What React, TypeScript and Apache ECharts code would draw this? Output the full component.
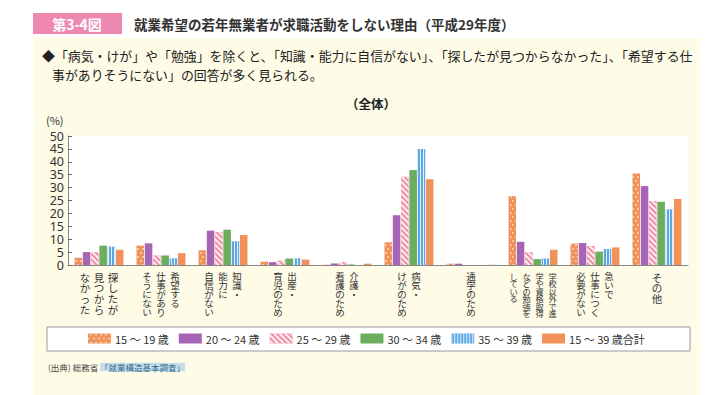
import React, { useEffect, useRef } from "react";
import * as echarts from "echarts";

const categoryColumns: string[][] = [
  ["探したが", "見つから", "なかった"],
  ["希望する", "仕事があり", "そうにない"],
  ["知識・", "能力に", "自信がない"],
  ["出産・", "育児のため"],
  ["介護・", "看護のため"],
  ["病気・", "けがのため"],
  ["通学のため"],
  ["学校以外で進", "学や資格取得", "などの勉強を", "している"],
  ["急いで", "仕事につく", "必要がない"],
  ["その他"],
];
const categories = categoryColumns.map((c) => c.join(""));

const seriesNames = ["15～19歳", "20～24歳", "25～29歳", "30～34歳", "35～39歳", "15～39歳合計"];
const age15to19 = [2.8, 7.5, 5.7, 1.3, 0.1, 8.8, 0.5, 26.7, 8.3, 35.5];
const age20to24 = [5.0, 8.4, 13.3, 1.1, 0.6, 19.3, 0.5, 9.0, 8.5, 30.6];
const age25to29 = [5.0, 3.7, 12.8, 1.7, 1.1, 34.2, 0.0, 5.0, 7.4, 24.8];
const age30to34 = [7.5, 3.7, 13.7, 2.5, 0.2, 36.8, 0.0, 2.3, 5.2, 24.5];
const age35to39 = [7.1, 2.6, 9.2, 2.6, 0.0, 45.0, 0.0, 2.5, 6.2, 21.6];
const ageTotal = [5.9, 4.6, 11.6, 2.1, 0.5, 33.2, 0.1, 5.9, 6.8, 25.6];
const seriesValues = [age15to19, age20to24, age25to29, age30to34, age35to39, ageTotal];

const yTicks = { min: 0, max: 50, interval: 5 };

const FONT = '"Noto Sans CJK JP", "Noto Sans", sans-serif';

export default function App() {
  const ref = useRef<HTMLDivElement>(null);

  useEffect(() => {
    document.body.style.margin = "0";
    const chart = echarts.init(ref.current!, null, { renderer: "svg" });

    const itemStyles: any[] = [
      {
        color: "#EF9259",
        decal: {
          symbol: "circle",
          symbolSize: 0.9,
          color: "rgba(255,240,220,0.75)",
          dashArrayX: [[1.5, 2.5], [0, 2, 1.5, 0.5]],
          dashArrayY: [1.5, 1.5],
        },
      },
      { color: "#A864B4" },
      {
        color: "#F38CA4",
        decal: {
          symbol: "rect",
          symbolSize: 1,
          color: "rgba(255,255,255,0.85)",
          dashArrayX: [1, 0],
          dashArrayY: [1.2, 1.2],
          rotation: Math.PI / 4,
        },
      },
      { color: "#6AAE5E" },
      {
        color: "#5AA7E4",
        decal: {
          symbol: "rect",
          symbolSize: 1,
          color: "rgba(255,255,255,0.85)",
          dashArrayX: [1, 1.6],
          dashArrayY: [1, 0],
        },
      },
      { color: "#F2915A" },
    ];

    const richBase = { fontFamily: FONT, color: "#333", align: "center" as const };

    const option: any = {
      animation: false,
      backgroundColor: "#ffffff",
      textStyle: { fontFamily: FONT },
      graphic: [
        { type: "rect", shape: { x: 33, y: 38, width: 667, height: 357 }, style: { fill: "#FEFBE7" }, silent: true, z: -10 },
        { type: "rect", shape: { x: 33, y: 13, width: 89, height: 21 }, style: { fill: "#EE88B0" } },
        {
          type: "text", x: 77, y: 24,
          style: { text: "第3-4図", fill: "#fff", fontSize: 14, fontWeight: "bold", fontFamily: FONT, align: "center", verticalAlign: "middle" },
        },
        {
          type: "text", x: 134, y: 24,
          style: { text: "就業希望の若年無業者が求職活動をしない理由（平成29年度）", fill: "#333", fontSize: 13.5, fontWeight: "bold", fontFamily: FONT, verticalAlign: "middle" },
        },
        {
          type: "text", x: 42, y: 55,
          style: { text: "◆「病気・けが」や「勉強」を除くと、「知識・能力に自信がない」、「探したが見つからなかった」、「希望する仕", fill: "#222", fontSize: 12.9, fontFamily: FONT, verticalAlign: "middle" },
        },
        {
          type: "text", x: 52, y: 74,
          style: { text: "事がありそうにない」の回答が多く見られる。", fill: "#222", fontSize: 12.9, fontFamily: FONT, verticalAlign: "middle" },
        },
        {
          type: "text", x: 371, y: 103,
          style: { text: "（全体）", fill: "#222", fontSize: 12.5, fontWeight: "bold", fontFamily: FONT, align: "center", verticalAlign: "middle" },
        },
        {
          type: "text", x: 46, y: 120,
          style: { text: "(%)", fill: "#333", fontSize: 11, fontFamily: FONT, verticalAlign: "middle" },
        },
        { type: "rect", shape: { x: 47, y: 327, width: 643, height: 24 }, style: { fill: "#fff", stroke: "#999", lineWidth: 1 }, z: -5 },
        {
          type: "text", x: 48, y: 367,
          style: {
            text: "{a|(出典) 総務省 }{b|「就業構造基本調査」}",
            verticalAlign: "middle",
            rich: {
              a: { fontSize: 8.5, fill: "#444", fontFamily: FONT },
              b: { fontSize: 8.5, fill: "#2C6C8C", backgroundColor: "#C6DDEA", fontFamily: FONT },
            },
          },
        },
      ],
      legend: {
        left: 83,
        top: 328,
        itemWidth: 23,
        itemHeight: 10,
        itemGap: 10,
        icon: "rect",
        data: seriesNames,
        formatter: (n: string) => n.replace("～", " ～ ").replace("歳", " 歳"),
        textStyle: { fontSize: 11, color: "#333", fontFamily: FONT, padding: [0, 0, 0, -1] },
      },
      grid: {
        left: 68,
        right: 24,
        top: 136,
        bottom: 130,
        show: true,
        backgroundColor: "#ffffff",
        borderWidth: 0,
      },
      xAxis: {
        type: "category",
        data: categories,
        axisLine: { lineStyle: { color: "#888", width: 1 } },
        axisTick: { inside: true, length: 5, lineStyle: { color: "#555" } },
        axisLabel: {
          interval: 0,
          margin: 7,
          verticalAlign: "top",
          formatter: (value: string) => {
            const idx = categories.indexOf(value);
            const cols = categoryColumns[idx];
            const n = Math.max(...cols.map((c) => c.length));
            const key = n <= 4 ? "a" : n === 5 ? "b" : "c";
            const ordered = [...cols].reverse();
            const lines: string[] = [];
            for (let r = 0; r < n; r++) {
              lines.push(ordered.map((c) => `{${key}|${c[r] ?? "　"}}`).join(""));
            }
            return lines.join("\n");
          },
          rich: {
            a: { ...richBase, fontSize: 10.5, lineHeight: 10.6, width: 14 },
            b: { ...richBase, fontSize: 9.5, lineHeight: 8.9, width: 14 },
            c: { ...richBase, fontSize: 8.2, lineHeight: 7.5, width: 13 },
          },
        },
      },
      yAxis: {
        type: "value",
        min: yTicks.min,
        max: yTicks.max,
        interval: yTicks.interval,
        axisLine: { show: true, lineStyle: { color: "#888", width: 1 } },
        axisTick: { show: true, inside: true, length: 4, lineStyle: { color: "#666" } },
        splitLine: { show: false },
        axisLabel: {
          fontSize: 12.5,
          color: "#333",
          margin: 4,
          showMinLabel: true,
          showMaxLabel: true,
          fontFamily: '"Noto Sans", sans-serif',
        },
      },
      series: seriesNames.map((name, i) => ({
        name,
        type: "bar",
        data: seriesValues[i],
        barCategoryGap: "21%",
        barGap: "10%",
        itemStyle: itemStyles[i],
      })),
    };

    chart.setOption(option);
    return () => chart.dispose();
  }, []);

  return <div ref={ref} style={{ width: 712, height: 395 }} />;
}
